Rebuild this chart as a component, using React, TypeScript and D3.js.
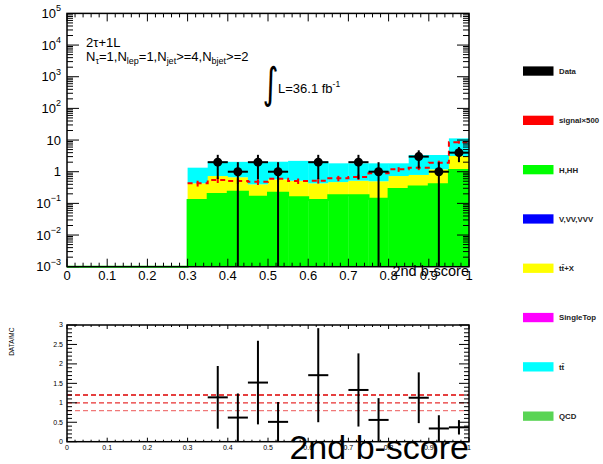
import React from 'react';
import * as d3 from 'd3';

// ---- data ----
const binEdges = [0, 0.05, 0.1, 0.15, 0.2, 0.25, 0.3, 0.35, 0.4, 0.45, 0.5, 0.55, 0.6, 0.65, 0.7, 0.75, 0.8, 0.85, 0.9, 0.95, 1.0];
const hhValues = [0, 0, 0, 0, 0, 0, 0.128, 0.198, 0.234, 0.162, 0.217, 0.155, 0.128, 0.18, 0.18, 0.14, 0.284, 0.34, 0.40, 1.13];
const ttxValues = [0, 0, 0, 0, 0, 0, 0.302, 0.532, 0.436, 0.238, 0.358, 0.365, 0.302, 0.29, 0.34, 0.36, 0.446, 0.45, 0.79, 2.0];
const ttValues = [0, 0, 0, 0, 0, 0, 0.91, 1.34, 1.38, 1.6, 1.495, 1.68, 1.67, 1.37, 1.32, 1.34, 1.11, 2.58, 2.18, 8.17];
const signalValues = [0, 0, 0, 0, 0, 0, 0.43, 0.55, 0.51, 0.48, 0.60, 0.51, 0.52, 0.62, 0.68, 0.9, 1.19, 1.34, 1.93, 8.5];
const signalErr = [0, 0, 0, 0, 0, 0, 0.09, 0.11, 0.1, 0.1, 0.12, 0.1, 0.1, 0.12, 0.13, 0.17, 0.2, 0.22, 0.3, 0.8];
const dataCounts = [0, 0, 0, 0, 0, 0, 0, 2, 1, 2, 1, 0, 2, 0, 2, 1, 0, 3, 1, 4];
const ratioValues = [0, 0, 0, 0, 0, 0, 0, 1.14, 0.62, 1.52, 0.51, 0, 1.71, 0, 1.33, 0.56, 0, 1.13, 0.34, 0.37];
const ratioLines = [1.2, 1.0, 0.8];
const xTicks = [0, 0.1, 0.2, 0.3, 0.4, 0.5, 0.6, 0.7, 0.8, 0.9, 1];
const yExps = [5, 4, 3, 2, 1, 0, -1, -2, -3];
const ratioTicks = [0, 0.5, 1, 1.5, 2, 2.5, 3];
const legendLabels = ['Data', 'signal\u00d7500', 'H,HH', 'V,VV,VVV', 't\u0074\u0304+X', 'SingleTop', 't\u0074\u0304', 'QCD'];
const legendColors = ['#000000', '#ff0000', '#00ff00', '#0000ff', '#ffff00', '#ff00ff', '#00ffff', '#59d454'];

const FONT = '"Liberation Sans", Arial, Helvetica, sans-serif';

export default function App() {
  const W = 603, H = 464;
  const x = d3.scaleLinear().domain([0, 1]).range([67, 469]);
  const y = d3.scaleLog().domain([1e-3, 1e5]).range([266.7, 13.4]);
  const yr = d3.scaleLinear().domain([0, 3]).range([441.7, 325]);
  const ymin = 1e-3;
  const cl = (v: number) => y(Math.max(v, ymin));

  const nb = binEdges.length - 1;
  const bins = d3.range(nb).map(i => ({
    lo: binEdges[i], hi: binEdges[i + 1], c: (binEdges[i] + binEdges[i + 1]) / 2,
    hh: hhValues[i], ttx: ttxValues[i], tt: ttValues[i],
  }));

  const layers = [
    { key: 'hh', color: '#00ff00' },
    { key: 'ttx', color: '#ffff00' },
    { key: 'tt', color: '#00ffff' },
  ];

  const stackRects: JSX.Element[] = [];
  bins.forEach((b, i) => {
    let cum = 0;
    layers.forEach(l => {
      const v = (b as any)[l.key] as number;
      const lo = cum; const hi = cum + v; cum = hi;
      if (v <= 0 || hi <= ymin) return;
      const y0 = cl(lo), y1 = cl(hi);
      stackRects.push(<rect key={`s${i}${l.key}`} x={x(b.lo)} y={y1} width={x(b.hi) - x(b.lo) + 0.3} height={y0 - y1} fill={l.color} />);
    });
  });

  const stepPath = (vals: number[]) => {
    let p = '';
    bins.forEach((b, i) => {
      const yy = cl(vals[i]);
      p += (i === 0 ? `M${x(b.lo)},${yy}` : `L${x(b.lo)},${yy}`) + `L${x(b.hi)},${yy}`;
    });
    return p;
  };
  const sigPath = (() => {
    let p = '';
    let started = false;
    bins.forEach((b, i) => {
      if (signalValues[i] <= 0) return;
      const yy = y(signalValues[i]);
      p += (!started ? `M${x(b.lo)},${yy}` : `L${x(b.lo)},${yy}`) + `L${x(b.hi)},${yy}`;
      started = true;
    });
    return p;
  })();

  const topTicks: JSX.Element[] = [];
  d3.range(0, 51).forEach(k => {
    const v = k * 0.02;
    const major = k % 5 === 0;
    const len = major ? 8 : 4;
    topTicks.push(<line key={`xb${k}`} x1={x(v)} x2={x(v)} y1={266.7} y2={266.7 - len} stroke="#000" strokeWidth={1} />);
    topTicks.push(<line key={`xt${k}`} x1={x(v)} x2={x(v)} y1={13.4} y2={13.4 + len} stroke="#000" strokeWidth={1} />);
  });
  for (let e = -3; e <= 4; e++) {
    for (let m = 1; m <= 9; m++) {
      const v = m * Math.pow(10, e);
      const len = m === 1 ? 12 : 6;
      topTicks.push(<line key={`yl${e}${m}`} x1={67} x2={67 + len} y1={y(v)} y2={y(v)} stroke="#000" strokeWidth={1} />);
      topTicks.push(<line key={`yr${e}${m}`} x1={469} x2={469 - len} y1={y(v)} y2={y(v)} stroke="#000" strokeWidth={1} />);
    }
  }
  const botTicks: JSX.Element[] = [];
  d3.range(0, 51).forEach(k => {
    const v = k * 0.02;
    const len = k % 5 === 0 ? 4 : 2;
    botTicks.push(<line key={`rxb${k}`} x1={x(v)} x2={x(v)} y1={441.7} y2={441.7 - len} stroke="#000" strokeWidth={1} />);
    botTicks.push(<line key={`rxt${k}`} x1={x(v)} x2={x(v)} y1={325} y2={325 + len} stroke="#000" strokeWidth={1} />);
  });
  d3.range(0, 31).forEach(k => {
    const v = k * 0.1;
    const len = k % 5 === 0 ? 10 : 5;
    botTicks.push(<line key={`ryl${k}`} x1={67} x2={67 + len} y1={yr(v)} y2={yr(v)} stroke="#000" strokeWidth={1} />);
    botTicks.push(<line key={`ryr${k}`} x1={469} x2={469 - len} y1={yr(v)} y2={yr(v)} stroke="#000" strokeWidth={1} />);
  });

  const legendY0 = 71, legendDy = 49.3;

  return (
    <svg width={W} height={H} style={{ position: 'absolute', left: 0, top: 0, background: '#fff' }} fontFamily={FONT}>
      <rect x={0} y={0} width={W} height={H} fill="#fff" />
      {stackRects}
      <path d={stepPath(hhValues)} fill="none" stroke="#00ff00" strokeWidth={2} />
      <path d={sigPath} fill="none" stroke="#ff0000" strokeWidth={2} strokeDasharray="5,4" />
      {bins.map((b, i) => signalValues[i] > 0 ? (
        <line key={`se${i}`} x1={x(b.c)} x2={x(b.c)} y1={y(signalValues[i] + signalErr[i])} y2={y(signalValues[i] - signalErr[i])} stroke="#ff0000" strokeWidth={2} />
      ) : null)}
      {bins.map((b, i) => dataCounts[i] > 0 ? (
        <g key={`d${i}`}>
          <line x1={x(b.c)} x2={x(b.c)} y1={y(dataCounts[i] + Math.sqrt(dataCounts[i]))} y2={cl(dataCounts[i] - Math.sqrt(dataCounts[i]))} stroke="#000" strokeWidth={2} />
          <line x1={x(b.lo)} x2={x(b.hi)} y1={y(dataCounts[i])} y2={y(dataCounts[i])} stroke="#000" strokeWidth={2} />
          <circle cx={x(b.c)} cy={y(dataCounts[i])} r={4.5} fill="#000" />
        </g>
      ) : null)}
      {topTicks}
      <rect x={67} y={13.4} width={402} height={253.3} fill="none" stroke="#000" strokeWidth={1.5} />
      {yExps.map(e => {
        const yy = y(Math.pow(10, e));
        if (e === 0) return <text key={`yt${e}`} x={61} y={yy + 4.5} fontSize={13} textAnchor="end">1</text>;
        if (e === 1) return <text key={`yt${e}`} x={61} y={yy + 4.5} fontSize={13} textAnchor="end">10</text>;
        return (
          <text key={`yt${e}`} x={61} y={yy + 4.5} fontSize={13} textAnchor="end">10<tspan fontSize={9} dy={-6.5}>{e < 0 ? `\u2212${-e}` : `${e}`}</tspan></text>
        );
      })}
      {xTicks.map(v => (
        <text key={`xl${v}`} x={x(v)} y={280} fontSize={13} textAnchor="middle">{String(v)}</text>
      ))}
      <text x={469} y={276} fontSize={14.5} textAnchor="end">2nd b-score</text>
      <text x={86} y={47} fontSize={13}>2{'\u03c4'}+1L</text>
      <text x={86} y={61} fontSize={13}>
        N<tspan fontSize={9} dy={3}>{'\u03c4'}</tspan><tspan dy={-3}>=1,N</tspan><tspan fontSize={9} dy={3}>lep</tspan><tspan dy={-3}>=1,N</tspan><tspan fontSize={9} dy={3}>jet</tspan><tspan dy={-3}>{'>=4,N'}</tspan><tspan fontSize={9} dy={3}>bjet</tspan><tspan dy={-3}>{'>=2'}</tspan>
      </text>
      <text transform="translate(262.5,98) scale(0.9,1.25)" fontSize={34} fontFamily='"DejaVu Sans", sans-serif'>{'\u222b'}</text>
      <text x={278} y={93} fontSize={13}>L=36.1 fb<tspan fontSize={8.5} dy={-6}>-1</tspan></text>

      {legendLabels.map((lab, i) => (
        <g key={`lg${i}`}>
          <rect x={523} y={legendY0 + i * legendDy - 4.6} width={30.5} height={9.3} fill={legendColors[i]} />
          <text x={559} y={legendY0 + i * legendDy + 2.9} fontSize={7.8} fontWeight="bold" fill="#222">{lab}</text>
        </g>
      ))}

      {ratioLines.map((v, i) => (
        <line key={`rl${i}`} x1={67} x2={469} y1={yr(v)} y2={yr(v)} stroke={i === 0 ? '#dd0000' : i === 1 ? '#e83030' : '#f07878'} strokeWidth={1.3} strokeDasharray="5,3" />
      ))}
      {bins.map((b, i) => dataCounts[i] > 0 ? (
        <g key={`r${i}`}>
          <line x1={x(b.c)} x2={x(b.c)} y1={yr(ratioValues[i] * (1 + 1 / Math.sqrt(dataCounts[i])))} y2={yr(Math.max(0, ratioValues[i] * (1 - 1 / Math.sqrt(dataCounts[i]))))} stroke="#000" strokeWidth={2} />
          <line x1={x(b.lo)} x2={x(b.hi)} y1={yr(ratioValues[i])} y2={yr(ratioValues[i])} stroke="#000" strokeWidth={2} />
        </g>
      ) : null)}
      {botTicks}
      <rect x={67} y={325} width={402} height={116.7} fill="none" stroke="#000" strokeWidth={1.5} />
      {ratioTicks.map(v => (
        <text key={`ryt${v}`} x={63} y={yr(v) + 2.4} fontSize={7} textAnchor="end">{String(v)}</text>
      ))}
      {xTicks.map(v => (
        <text key={`rxl${v}`} x={x(v)} y={449.5} fontSize={7} textAnchor="middle">{String(v)}</text>
      ))}
      <text transform="translate(13.5,341.7) rotate(-90)" fontSize={6.5} textAnchor="middle">DATA/MC</text>
      <text x={469} y={459} fontSize={34} textAnchor="end">2nd b-score</text>
    </svg>
  );
}
